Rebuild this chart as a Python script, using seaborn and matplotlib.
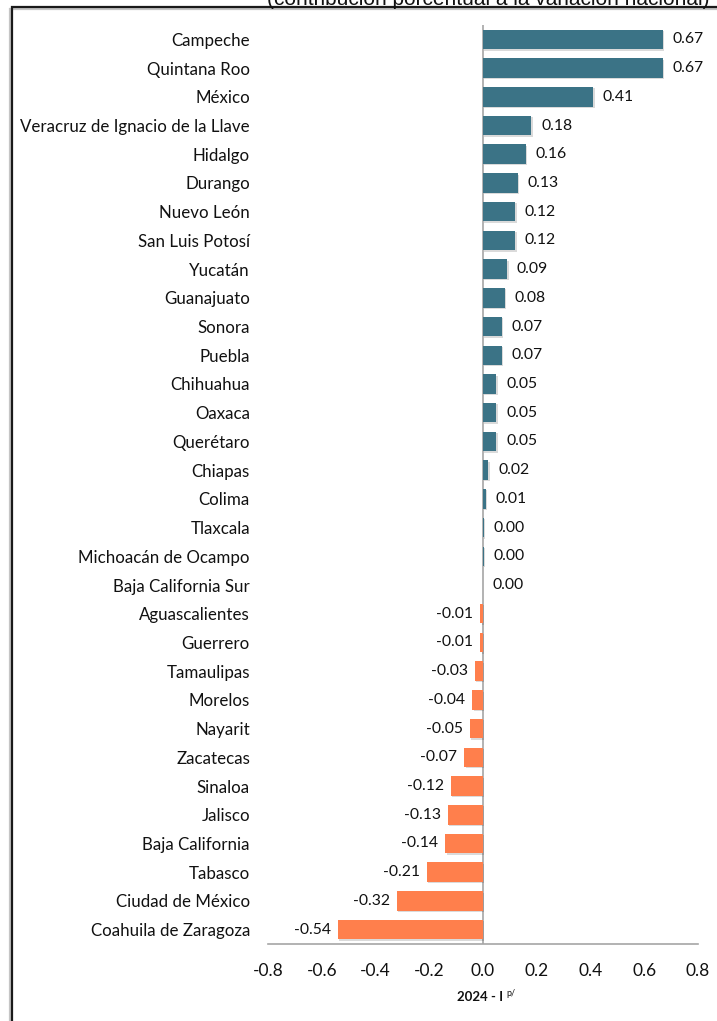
import matplotlib
matplotlib.use("Agg")
import matplotlib.pyplot as plt
import matplotlib.patheffects as pe
from matplotlib.patches import Rectangle
import seaborn as sns
import pandas as pd

states = ["Campeche", "Quintana Roo", "México", "Veracruz de Ignacio de la Llave",
          "Hidalgo", "Durango", "Nuevo León", "San Luis Potosí", "Yucatán",
          "Guanajuato", "Sonora", "Puebla", "Chihuahua", "Oaxaca", "Querétaro",
          "Chiapas", "Colima", "Tlaxcala", "Michoacán de Ocampo",
          "Baja California Sur", "Aguascalientes", "Guerrero", "Tamaulipas",
          "Morelos", "Nayarit", "Zacatecas", "Sinaloa", "Jalisco",
          "Baja California", "Tabasco", "Ciudad de México", "Coahuila de Zaragoza"]
values = [0.67, 0.67, 0.41, 0.18, 0.16, 0.13, 0.12, 0.12, 0.09, 0.08, 0.07, 0.07,
          0.05, 0.05, 0.05, 0.02, 0.01, 0.004, 0.003, 0.0, -0.01, -0.01, -0.03,
          -0.04, -0.05, -0.07, -0.12, -0.13, -0.14, -0.21, -0.32, -0.54]
xticks = [-0.8, -0.6, -0.4, -0.2, 0.0, 0.2, 0.4, 0.6, 0.8]
title = "(contribución porcentual a la variación nacional)"
xlabel_main = "2024 - I"
xlabel_sup = "p/"

POS = "#3B7386"
NEG = "#FF7F4C"

sns.set_theme(style="white")
plt.rcParams["font.family"] = ["Lato", "DejaVu Sans"]

fig = plt.figure(figsize=(7.17, 10.21), dpi=100)
W, H = 717, 1021
ax = fig.add_axes([268 / W, (H - 944) / H, 430 / W, 919 / H])

df = pd.DataFrame({"state": states, "value": values})
colors = [POS if v >= 0 else NEG for v in values]
sns.barplot(data=df, x="value", y="state", hue="state", palette=colors,
            legend=False, orient="h", width=0.68, ax=ax,
            saturation=1)

shadow = [pe.SimplePatchShadow(offset=(1.0, -1.0), alpha=0.18, shadow_rgbFace="#333333"), pe.Normal()]
for p in ax.patches:
    p.set_path_effects(shadow)
    p.set_edgecolor("none")

ax.set_xlim(-0.8, 0.8)
ax.set_ylim(len(states) - 0.5, -0.5)
ax.set_xticks(xticks)
ax.set_xticklabels([f"{t:.1f}" for t in xticks], fontsize=12.5, color="#111111")
ax.tick_params(axis="x", length=0, pad=14)
ax.tick_params(axis="y", length=0, pad=13, labelsize=12.2, labelcolor="#111111")
ax.set_xlabel("")
ax.set_ylabel("")
for s in ["top", "right", "left"]:
    ax.spines[s].set_visible(False)
ax.spines["bottom"].set_color("#A6A6A6")
ax.spines["bottom"].set_linewidth(1.2)
ax.axvline(0, color="#A6A6A6", lw=1.2, zorder=0.5)

for i, v in enumerate(values):
    if v >= 0:
        ax.annotate(f"{abs(v):.2f}", (v, i), xytext=(7, 0),
                    textcoords="offset points", ha="left", va="center",
                    fontsize=11.3, color="#111111")
    else:
        ax.annotate(f"{v:.2f}", (v, i), xytext=(-5, 0),
                    textcoords="offset points", ha="right", va="center",
                    fontsize=11.3, color="#111111")

fig.text(503 / W, (H - 997) / H, xlabel_main, ha="right", va="center",
         fontsize=9.5, fontweight="bold", color="#111111")
fig.text(506 / W, (H - 993) / H, xlabel_sup, ha="left", va="center",
         fontsize=6.5, color="#111111")

fig.text(488 / W, (H - 5) / H, title, ha="center", va="baseline",
         fontsize=15, family=["Liberation Sans"], color="#111111")

frame = Rectangle((12 / W, -0.05), 1.2, (H - 7) / H + 0.05, transform=fig.transFigure,
                  fill=False, edgecolor="#1A1A1A", lw=1.6, clip_on=False,
                  path_effects=[pe.SimpleLineShadow(offset=(-1.5, -1.5), alpha=0.25), pe.Normal()])
fig.patches.append(frame)

fig.savefig("out.png", dpi=100)
